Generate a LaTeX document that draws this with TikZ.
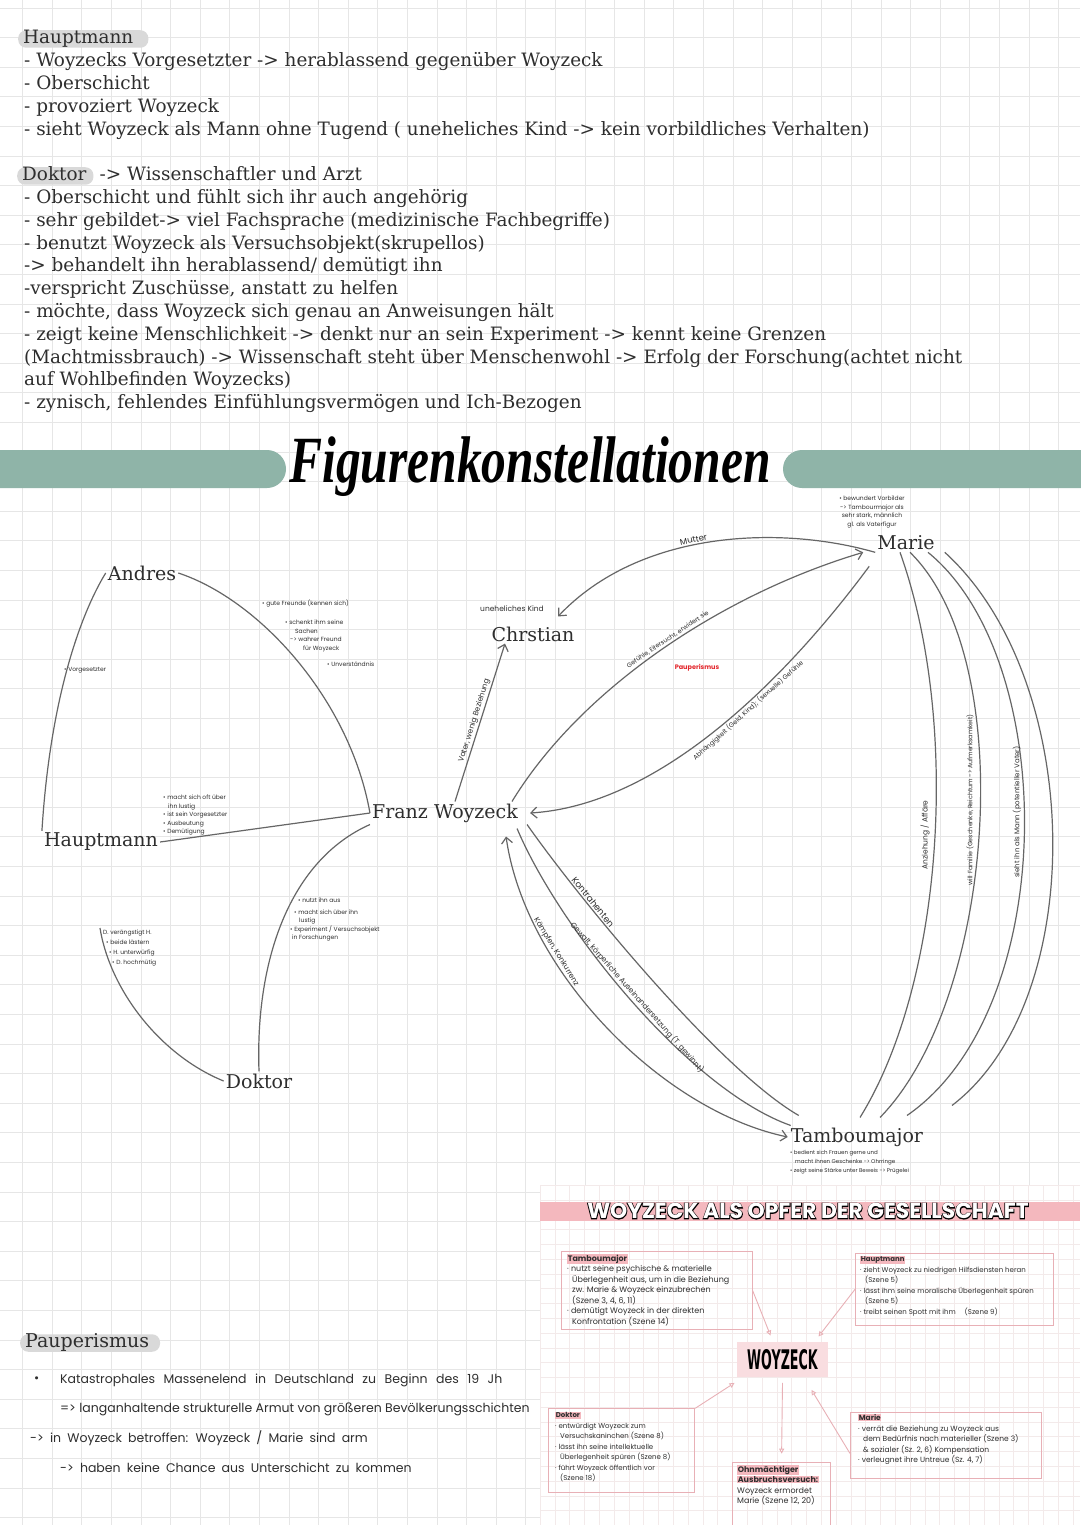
\documentclass[tikz,border=0pt]{standalone}
\usepackage{fontspec}
\setmainfont{DejaVu Serif}
\newfontfamily\handschrift{Poppins}
\newfontfamily\blasenrand{Poppins}[BoldFeatures={FakeBold=7}]
\newfontfamily\pinsel{Liberation Serif}
\newfontfamily\blockschrift{DejaVu Sans}
\usetikzlibrary{arrows.meta}

\definecolor{gitter}{HTML}{E6E6E6}
\definecolor{feingitter}{HTML}{F3EAEA}
\definecolor{salbei}{HTML}{8FB4A8}
\definecolor{markergrau}{HTML}{D9D9D9}
\definecolor{tinte}{HTML}{2E2E2E}
\definecolor{strich}{HTML}{666666}
\definecolor{rosa}{HTML}{F4B8BE}
\definecolor{rosalinie}{HTML}{E8B0B6}
\definecolor{rosafill}{HTML}{F9DDE0}
\definecolor{signalrot}{HTML}{E3262C}

\tikzset{
  >={Straight Barb[length=6pt,width=11pt]},
  figur/.style={font=\fontsize{19}{22}\selectfont, text=tinte, inner sep=2pt},
  liste/.style={anchor=west, font=\fontsize{18.4}{23}\selectfont, text=tinte,
    inner sep=0pt, text height=13.5pt, text depth=4pt},
  kopf/.style={liste, fill=markergrau, rounded corners=8pt, inner xsep=5pt},
  linie/.style={draw=strich, line width=1.2pt},
  pfeil/.style={linie, ->},
  notiz/.style={font=\handschrift\fontsize{6}{8.5}\selectfont, text=tinte,
    align=left, inner sep=0pt},
  beschrift/.style={font=\handschrift\fontsize{7}{8}\selectfont, text=tinte,
    inner sep=1.5pt},
  kante/.style={beschrift, sloped},
  kasten/.style={draw=rosalinie, line width=0.9pt, anchor=north west, inner sep=0pt},
  kastentext/.style={anchor=north west, align=left, inner sep=0pt,
    font=\handschrift\fontsize{7}{10.5}\selectfont, text=tinte},
  rosapfeil/.style={draw=rosalinie, line width=0.9pt,
    -{Triangle[open,length=5pt,width=5pt]}},
  hand/.style={anchor=west, font=\handschrift\fontsize{12.5}{14}\selectfont,
    text=tinte, inner sep=0pt},
  blase/.style={inner sep=0pt},
}
\setlength{\fboxsep}{0.6pt}

\begin{document}
\begin{tikzpicture}[x=1pt,y=-1pt]
\useasboundingbox (0,0) rectangle (1080,1525);
\fill[white] (0,0) rectangle (1080,1525);

% Karopapier
\foreach \gx in {0,...,37}
  \draw[gitter, line width=0.7pt] ({\gx*29.6-7},0) -- ({\gx*29.6-7},1525);
\foreach \gy in {0,...,52}
  \draw[gitter, line width=0.7pt] (0,{\gy*29.6+8}) -- (1080,{\gy*29.6+8});

% Hauptmann
\node[kopf] (hptKopf) at (18,39) {Hauptmann\hspace*{10pt}};
\foreach \zeile [count=\i] in {%
- Woyzecks Vorgesetzter -> herablassend gegenüber Woyzeck,%
- Oberschicht,%
- provoziert Woyzeck,%
- sieht Woyzeck als Mann ohne Tugend ( uneheliches Kind -> kein vorbildliches Verhalten)}
  \node[liste] (hpt\i) at (24,{39+23*\i}) {\zeile};

% Doktor
\node[kopf] (dokKopf) at (17,176) {Doktor\hspace*{2pt}};
\node[liste] (dokRolle) at (dokKopf.east) {\ -> Wissenschaftler und Arzt};
\foreach \zeile [count=\i] in {%
- Oberschicht und fühlt sich ihr auch angehörig,%
-  sehr gebildet-> viel Fachsprache (medizinische Fachbegriffe),%
- benutzt Woyzeck als Versuchsobjekt(skrupellos),%
-> behandelt ihn herablassend/ demütigt ihn,%
{-verspricht Zuschüsse, anstatt zu helfen},%
{- möchte, dass Woyzeck sich genau an Anweisungen hält},%
- zeigt keine Menschlichkeit -> denkt nur an sein Experiment -> kennt keine Grenzen,%
(Machtmissbrauch) -> Wissenschaft steht über Menschenwohl -> Erfolg der Forschung(achtet nicht,%
auf Wohlbefinden Woyzecks),%
{- zynisch, fehlendes Einfühlungsvermögen und Ich-Bezogen}}
  \node[liste] (dok\i) at (24,{176+22.8*\i}) {\zeile};

% Ueberschrift
\fill[salbei, rounded corners=19pt] (-40,450) rectangle (286,488);
\fill[salbei, rounded corners=19pt] (783,450) rectangle (1120,488);
\node[text=black, inner sep=0pt] (titel) at (530,467)
  {\pinsel\bfseries\itshape\fontsize{66}{66}\selectfont\scalebox{0.75}[1]{Figurenkonstellationen}};

% Figuren
\node[figur] (andres) at (142,573) {Andres};
\node[figur] (chrstian) at (533,634) {Chrstian};
\node[figur] (marie) at (906,543) {Marie};
\node[figur] (hauptmann) at (101,842) {Hauptmann};
\node[figur] (woyzeck) at (445,813) {Franz Woyzeck};
\node[figur] (doktor) at (259,1081) {Doktor};
\node[figur] (tambour) at (857,1137) {Tamboumajor};
\coordinate (hdStart) at (100,928);

% Beziehungen links
\draw[linie] (andres.west) .. controls (80,615) and (50,700) .. (hauptmann.north west);
\draw[linie] (andres.east) .. controls (260,600) and (350,700) .. (woyzeck.west);
\draw[linie] (hauptmann.east) -- (woyzeck.west);
\draw[linie] (hdStart) .. controls (110,990) and (160,1055) .. (doktor.west);
\draw[linie] (doktor.north) .. controls (255,960) and (290,860) .. (woyzeck.south west);

\node[notiz, anchor=west] (notVorg) at (64,670) {• Vorgesetzter};
\node[notiz, anchor=west] (notGut) at (262,604) {• gute Freunde (kennen sich)};
\node[notiz, anchor=north west] (notSachen) at (285,620)
  {• schenkt ihm seine\\\hspace*{10pt}Sachen\\\hspace*{5pt}-> wahrer Freund\\\hspace*{18pt}für Woyzeck};
\node[notiz, anchor=west] (notUnv) at (327,664) {• Unverständnis};
\node[notiz, anchor=north west] (notHpt) at (163,795)
  {• macht sich oft über\\\hspace*{5pt}ihn lustig\\• ist sein Vorgesetzter\\• Ausbeutung\\• Demütigung};
\node[notiz, anchor=north west, font=\handschrift\fontsize{6}{10}\selectfont] (notHD) at (103,930)
  {D. verängstigt H.\\\hspace*{3pt}• beide lästern\\\hspace*{6pt}• H. unterwürfig\\\hspace*{9pt}• D. hochmütig};
\node[notiz, anchor=north west] (notDW) at (290,898)
  {\hspace*{8pt}• nutzt ihn aus\\[3pt]\hspace*{4pt}• macht sich über ihn\\\hspace*{9pt}lustig\\• Experiment / Versuchsobjekt\\\hspace*{2pt}in Forschungen};

% Christian und Marie
\draw[pfeil] ([xshift=10pt]woyzeck.north) -- ([xshift=-28pt]chrstian.south)
  node[kante, pos=0.5, above, font=\handschrift\fontsize{7.5}{8}\selectfont] (lblVater) {Vater, wenig Beziehung};
\draw[pfeil] (marie.south west) .. controls (780,525) and (640,530) .. ([shift={(25pt,8pt)}]chrstian.north)
  node[kante, pos=0.55, above, font=\handschrift\fontsize{8.5}{9}\selectfont] (lblMutter) {Mutter};
\node[beschrift, font=\handschrift\fontsize{7.5}{8}\selectfont] (lblKind) at (512,609) {uneheliches Kind};
\draw[pfeil] ([xshift=67pt]woyzeck.north) .. controls (580,690) and (720,595) .. ([xshift=-12pt]marie.south west)
  node[kante, pos=0.53, above, font=\handschrift\fontsize{6.3}{7}\selectfont] (lblGefuehl) {Gefühle, Eifersucht, erwidert sie};
\draw[pfeil] ([shift={(-6pt,-14pt)}]marie.south west) .. controls (785,680) and (660,805) .. ([xshift=10pt]woyzeck.east)
  node[kante, pos=0.42, below, font=\handschrift\fontsize{6.5}{7}\selectfont] (lblAbh) {Abhängigkeit (Geld, Kind); (sexuelle) Gefühle};
\node[beschrift, text=signalrot, font=\handschrift\bfseries\fontsize{6.5}{7}\selectfont] (pauRot) at (697,668) {Pauperismus};

% Woyzeck und Tambourmajor
\draw[linie, <->] ([shift={(-14pt,-12pt)}]woyzeck.south east) .. controls (525,970) and (660,1110) .. ([xshift=-1pt]tambour.west)
  node[kante, pos=0.3, above, font=\handschrift\fontsize{7.5}{8}\selectfont] (lblKampf) {Kämpfen, Konkurrenz};
\draw[linie] ([shift={(-3pt,-4pt)}]woyzeck.south east) .. controls (560,930) and (690,1090) .. ([xshift=2pt]tambour.north west)
  node[kante, pos=0.5, above, font=\handschrift\fontsize{7.5}{8}\selectfont] (lblGewalt) {Gewalt, körperliche Auseinandersetzung (T. gewinnt)};
\draw[linie] ([xshift=7pt]woyzeck.south east) .. controls (580,900) and (720,1070) .. ([shift={(10pt,10pt)}]tambour.north west)
  node[kante, pos=0.28, above, font=\handschrift\fontsize{9}{9}\selectfont] (lblKontra) {Kontrahenten};

% Marie und Tambourmajor
\draw[linie] ([xshift=-6pt]marie.south) .. controls (960,720) and (945,980) .. ([shift={(3pt,8pt)}]tambour.north);
\draw[linie] ([xshift=4pt]marie.south) .. controls (1020,660) and (995,1000) .. ([shift={(23pt,8pt)}]tambour.north);
\draw[linie] ([xshift=22pt]marie.south) .. controls (1060,660) and (1060,1010) .. ([shift={(50pt,10pt)}]tambour.north);
\draw[linie] ([xshift=8pt]marie.south east) .. controls (1085,680) and (1090,1000) .. ([shift={(95pt,20pt)}]tambour.north);
\node[beschrift, rotate=90, font=\handschrift\fontsize{7.5}{8}\selectfont] (lblAnz) at (925,835) {Anziehung / Affäre};
\node[beschrift, rotate=90, font=\handschrift\fontsize{6.3}{7}\selectfont] (lblFam) at (970,800) {will Familie (Geschenke, Reichtum -> Aufmerksamkeit)};
\node[beschrift, rotate=90, font=\handschrift\fontsize{7}{8}\selectfont] (lblMann) at (1017,812) {sieht ihn als Mann (potentieller Vater)};

\node[notiz, align=center, anchor=north] (notMarie) at (872,496)
  {• bewundert Vorbilder\\-> Tambourmajor als\\sehr stark, männlich\\gl. als Vaterfigur};
\node[notiz, anchor=north west, font=\handschrift\fontsize{5.5}{9}\selectfont] (notTb) at (790,1150)
  {• bedient sich Frauen gerne und\\\hspace*{5pt}macht ihnen Geschenke -> Ohrringe\\• zeigt seine Stärke unter Beweis -> Prügelei};

% Pauperismus
\node[kopf, font=\fontsize{19}{22}\selectfont] (pauKopf) at (20,1343) {Pauperismus\hspace*{6pt}};
\node[hand] (pauPunkt) at (34,1380) {•};
\node[hand] (pau1) at (60,1380) {\spaceskip=8.5pt Katastrophales Massenelend in Deutschland zu Beginn des 19 Jh};
\node[hand] (pau2) at (60,1409) {\spaceskip=3.4pt => langanhaltende strukturelle Armut von größeren Bevölkerungsschichten};
\node[hand] (pau3) at (30,1438) {\spaceskip=6.2pt -> in Woyzeck betroffen: Woyzeck / Marie sind arm};
\node[hand] (pau4) at (60,1468) {\spaceskip=6.2pt -> haben keine Chance aus Unterschicht zu kommen};

% Opfer der Gesellschaft
\fill[white] (540,1185) rectangle (1080,1525);
\foreach \fx in {0,...,36}
  \draw[feingitter, line width=0.5pt] ({540+\fx*14.8},1185) -- ({540+\fx*14.8},1525);
\foreach \fy in {0,...,23}
  \draw[feingitter, line width=0.5pt] (540,{1185+\fy*14.8}) -- (1080,{1185+\fy*14.8});
\fill[rosa] (540,1202) rectangle (1080,1221);
\node[blase, text=black, font=\blasenrand\bfseries\fontsize{21.8}{22}\selectfont] (opferRand) at (808,1211)
  {WOYZECK ALS OPFER DER GESELLSCHAFT};
\node[blase, text=white, font=\handschrift\bfseries\fontsize{21.8}{22}\selectfont] (opferTitel) at (808,1211)
  {WOYZECK ALS OPFER DER GESELLSCHAFT};

\node[fill=rosafill, minimum width=91.6pt, minimum height=35pt, inner sep=0pt] (wzKern) at (782.5,1359.2)
  {\blockschrift\bfseries\fontsize{27}{27}\selectfont\scalebox{0.47}[1]{WOYZECK}};

\node[kasten, minimum width=191pt, minimum height=78.6pt] (tbKasten) at (560.7,1250.7) {};
\node[kastentext, font=\handschrift\fontsize{8}{10.5}\selectfont] (tbText) at (567,1254)
  {\colorbox{rosa}{\bfseries Tamboumajor}\\
   · nutzt seine psychische \& materielle\\
   \hspace*{5pt}Überlegenheit aus, um in die Beziehung\\
   \hspace*{5pt}zw. Marie \& Woyzeck einzubrechen\\
   \hspace*{5pt}(Szene 3, 4, 6, 11)\\
   · demütigt Woyzeck in der direkten\\
   \hspace*{5pt}Konfrontation (Szene 14)};

\node[kasten, minimum width=198pt, minimum height=72.3pt] (hpKasten) at (855,1252.7) {};
\node[kastentext] (hpText) at (860,1256)
  {\colorbox{rosa}{\bfseries Hauptmann}\\
   · zieht Woyzeck zu niedrigen Hilfsdiensten heran\\
   \hspace*{5pt}(Szene 5)\\
   · lässt ihm seine moralische Überlegenheit spüren\\
   \hspace*{5pt}(Szene 5)\\
   · treibt seinen Spott mit ihm \quad (Szene 9)};

\node[kasten, minimum width=146pt, minimum height=83.4pt] (dkKasten) at (548.3,1408.3) {};
\node[kastentext] (dkText) at (555,1412)
  {\colorbox{rosa}{\bfseries Doktor}\\
   · entwürdigt Woyzeck zum\\
   \hspace*{5pt}Versuchskaninchen (Szene 8)\\
   · lässt ihn seine intellektuelle\\
   \hspace*{5pt}Überlegenheit spüren (Szene 8)\\
   · führt Woyzeck öffentlich vor\\
   \hspace*{5pt}(Szene 18)};

\node[kasten, minimum width=191pt, minimum height=66.6pt] (mrKasten) at (850,1411.7) {};
\node[kastentext, font=\handschrift\fontsize{7.5}{10.5}\selectfont] (mrText) at (858,1414)
  {\colorbox{rosa}{\bfseries Marie}\\
   · verrät die Beziehung zu Woyzeck aus\\
   \hspace*{5pt}dem Bedürfnis nach materieller (Szene 3)\\
   \hspace*{5pt}\& sozialer (Sz. 2, 6) Kompensation\\
   · verleugnet ihre Untreue (Sz. 4, 7)};

\node[kasten, minimum width=97.7pt, minimum height=70pt] (ohKasten) at (732.3,1461.7) {};
\node[kastentext, font=\handschrift\fontsize{8}{10.5}\selectfont] (ohText) at (737,1465)
  {\colorbox{rosa}{\bfseries Ohnmächtiger}\\
   \colorbox{rosa}{\bfseries Ausbruchsversuch:}\\
   Woyzeck ermordet\\
   Marie (Szene 12, 20)};

\draw[rosapfeil] (tbKasten.east) -- ([shift={(34pt,6pt)}]wzKern.north west);
\draw[rosapfeil] (hpKasten.west) -- ([shift={(-10pt,5pt)}]wzKern.north east);
\draw[rosapfeil] (dkKasten.north east) -- ([shift={(-2pt,-6pt)}]wzKern.south west);
\draw[rosapfeil] ([yshift=-6pt]wzKern.south) -- ([yshift=8pt]ohKasten.north);
\draw[rosapfeil] ([yshift=-8pt]mrKasten.west) -- ([shift={(-17pt,-13pt)}]wzKern.south east);

\end{tikzpicture}
\end{document}
